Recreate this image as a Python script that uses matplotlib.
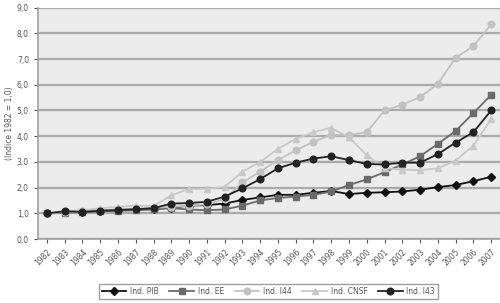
import numpy as np
from matplotlib import pyplot as plt

years = [str(y) for y in range(1982, 2008)]

pib = [1.0, 1.05, 1.05, 1.1, 1.12, 1.15, 1.18, 1.22, 1.3, 1.32, 1.38, 1.52, 1.62,
       1.72, 1.72, 1.8, 1.87, 1.75, 1.8, 1.82, 1.85, 1.92, 2.02, 2.1, 2.25, 2.42]
ee = [1.0, 1.02, 1.05, 1.08, 1.1, 1.12, 1.15, 1.2, 1.15, 1.12, 1.15, 1.3, 1.5,
      1.6, 1.65, 1.72, 1.85, 2.1, 2.32, 2.6, 2.9, 3.22, 3.7, 4.2, 4.9, 5.6]
i44 = [1.0, 1.05, 1.08, 1.12, 1.15, 1.18, 1.22, 1.25, 1.3, 1.35, 1.55, 2.2, 2.62,
       3.07, 3.45, 3.78, 4.05, 4.05, 4.15, 5.0, 5.22, 5.52, 6.03, 7.05, 7.5, 8.35]
cnsf = [1.0, 1.1, 1.12, 1.2, 1.25, 1.3, 1.28, 1.7, 1.95, 1.95, 2.03, 2.62, 3.0,
        3.5, 3.9, 4.15, 4.33, 3.95, 3.27, 2.75, 2.7, 2.68, 2.75, 3.05, 3.63, 4.67]
i43 = [1.0, 1.08, 1.06, 1.1, 1.13, 1.16, 1.2, 1.38, 1.4, 1.45, 1.65, 1.97, 2.33,
       2.75, 2.97, 3.13, 3.22, 3.07, 2.92, 2.9, 2.97, 2.97, 3.3, 3.75, 4.15, 5.0]

labels = ['Ind. PIB', 'Ind. EE', 'Ind. I44', 'Ind. CNSF', 'Ind. I43']
series = [pib, ee, i44, cnsf, i43]
colors = ['#111111', '#6a6a6a', '#c2c2c2', '#c8c8c8', '#222222']
markers = ['D', 's', 'o', '^', 'o']
msizes = [3.8, 3.8, 4.8, 4.2, 4.8]

fig = plt.figure(figsize=(5.0, 3.03), dpi=100)
ax = fig.add_axes([0.076, 0.211, 0.924, 0.764])
ax.set_facecolor('#ececec')

x = np.arange(len(years))
for s, lab, c, m, ms in zip(series, labels, colors, markers, msizes):
    ax.plot(x, s, color=c, marker=m, markersize=ms, linewidth=1.3, label=lab)

ax.set_xlim(-0.5, len(years) - 0.5)
ax.set_ylim(0, 9)
ax.set_yticks(np.arange(0, 10, 1))
ax.set_yticklabels([('%.1f' % v).replace('.', ',') for v in range(10)])
ax.set_xticks(x)
ax.set_xticklabels(years, rotation=45, ha='right', rotation_mode='anchor')
ax.tick_params(axis='both', labelsize=5.5, colors='#555555', length=3, width=0.8)
ax.tick_params(axis='x', pad=3)
ax.yaxis.grid(True, color='#aaaaaa', linewidth=1.6)
ax.set_axisbelow(True)
for sp in ['top', 'right']:
    ax.spines[sp].set_visible(False)
for sp in ['left', 'bottom']:
    ax.spines[sp].set_color('#a0a0a0')
    ax.spines[sp].set_linewidth(1.2)
ax.set_ylabel('(Indice 1982 = 1,0)', fontsize=5.5, color='#555555', labelpad=2)

leg = fig.legend(loc='lower center', bbox_to_anchor=(0.537, 0.0), ncol=5,
                 fontsize=5.5, frameon=True, edgecolor='#888888', fancybox=False,
                 handlelength=3.2, columnspacing=1.4, handletextpad=0.5,
                 borderpad=0.4, markerscale=1.0)
for t in leg.get_texts():
    t.set_color('#555555')

fig.savefig('out.png', dpi=100)
